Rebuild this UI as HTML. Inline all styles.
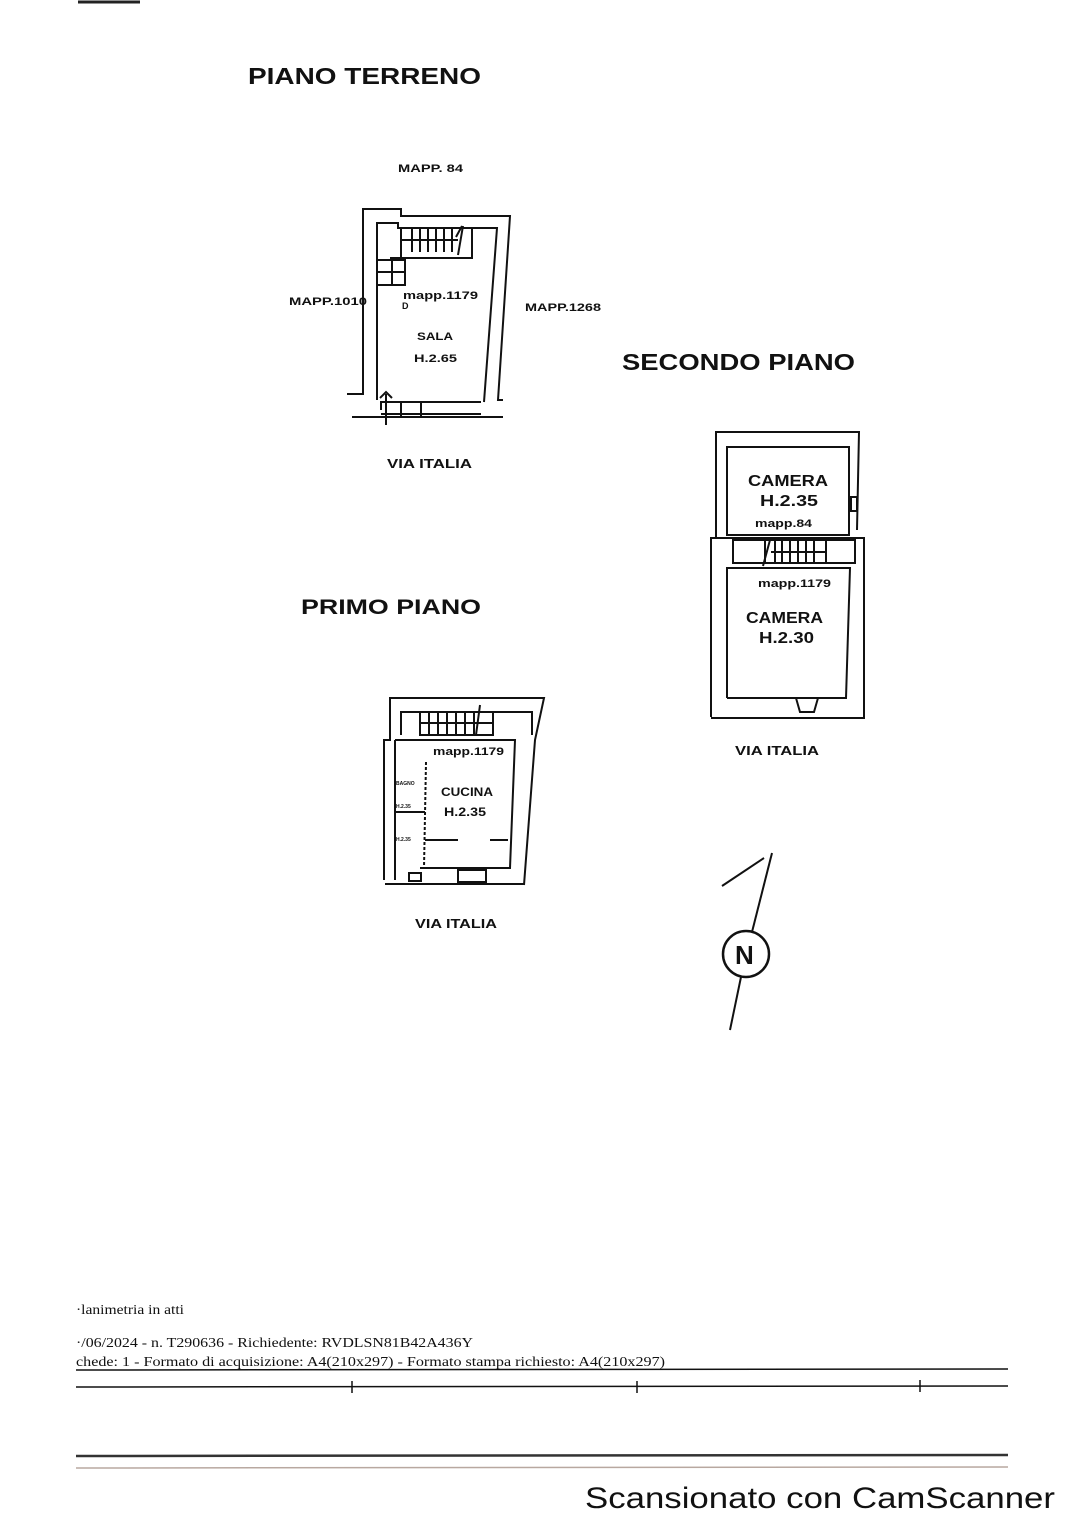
<!DOCTYPE html>
<html><head><meta charset="utf-8"><style>
html,body{margin:0;padding:0;background:#fff}
svg{display:block}
.b{font-family:"Liberation Sans",sans-serif;font-weight:bold;fill:#111}
.s{font-family:"Liberation Serif",serif;fill:#111}
</style></head><body>
<svg width="1085" height="1535" viewBox="0 0 1085 1535" xmlns="http://www.w3.org/2000/svg">
<rect width="1085" height="1535" fill="#fff"/>
<line x1="78" y1="2" x2="140" y2="2" stroke="#222" stroke-width="3"/>
<text class="b" x="248" y="84" font-size="23" textLength="233" lengthAdjust="spacingAndGlyphs">PIANO TERRENO</text>
<text class="b" x="398" y="172" font-size="11" textLength="65" lengthAdjust="spacingAndGlyphs">MAPP. 84</text>
<text class="b" x="289" y="305" font-size="11" textLength="78" lengthAdjust="spacingAndGlyphs">MAPP.1010</text>
<text class="b" x="525" y="311" font-size="11" textLength="76" lengthAdjust="spacingAndGlyphs">MAPP.1268</text>
<text class="b" x="403" y="299" font-size="11" textLength="75" lengthAdjust="spacingAndGlyphs">mapp.1179</text>
<text class="b" x="402" y="309" font-size="9">D</text>
<text class="b" x="417" y="340" font-size="11" textLength="36" lengthAdjust="spacingAndGlyphs">SALA</text>
<text class="b" x="414" y="362" font-size="11" textLength="43" lengthAdjust="spacingAndGlyphs">H.2.65</text>
<text class="b" x="387" y="468" font-size="13" textLength="85" lengthAdjust="spacingAndGlyphs">VIA ITALIA</text>
<g fill="none" stroke="#111" stroke-width="2">
<path d="M347,394 L363,394 L363,209 L401,209 L401,216 L510,216 L498,400 L503,400"/>
<path d="M377,400 L377,223 L398,223 L398,228 L497,228 L484,402"/>
<rect x="401" y="228" width="71" height="30"/>
<line x1="390" y1="258" x2="472" y2="258"/>
<path d="M378,260 L405,260 L405,285 L378,285 M378,272 L405,272 M392,260 L392,285"/>
<path d="M412,228 V252 M420,228 V252 M428,228 V252 M436,228 V252 M444,228 V252 M452,228 V252 M401,240 H458 M456,237 L462,226 M463,226 L458,255"/>
<line x1="352" y1="417" x2="503" y2="417"/>
<path d="M381,410 L381,402 L401,402 L401,416 M401,402 L481,402 M421,402 V416 M381,414 H481"/>
<path d="M386,425 V394 M380,398 L386,392 L392,398"/>
</g>
<text class="b" x="622" y="370" font-size="23" textLength="233" lengthAdjust="spacingAndGlyphs">SECONDO PIANO</text>
<g fill="none" stroke="#111" stroke-width="2">
<path d="M716,538 L716,432 L859,432 L857,530"/>
<rect x="727" y="447" width="122" height="88"/>
<path d="M711,717 L711,538 L864,538 L864,718"/>
<path d="M727,698 L727,568 L850,568 L846,698 L727,698"/>
<path d="M733,540 L855,540 L855,563 L733,563 Z M765,540 V563 M771,552 H826 M775,540 V563 M782,540 V563 M790,540 V563 M798,540 V563 M806,540 V563 M814,540 V563 M826,540 V563 M770,540 L763,566"/>
<line x1="711" y1="718" x2="865" y2="718"/>
<path d="M796,698 L800,712 L814,712 L818,698"/>
<rect x="851" y="497" width="6" height="14"/>
</g>
<text class="b" x="748" y="486" font-size="16" textLength="80" lengthAdjust="spacingAndGlyphs">CAMERA</text>
<text class="b" x="760" y="506" font-size="16" textLength="58" lengthAdjust="spacingAndGlyphs">H.2.35</text>
<text class="b" x="755" y="527" font-size="11" textLength="57" lengthAdjust="spacingAndGlyphs">mapp.84</text>
<text class="b" x="758" y="587" font-size="11" textLength="73" lengthAdjust="spacingAndGlyphs">mapp.1179</text>
<text class="b" x="746" y="623" font-size="16" textLength="77" lengthAdjust="spacingAndGlyphs">CAMERA</text>
<text class="b" x="759" y="643" font-size="16" textLength="55" lengthAdjust="spacingAndGlyphs">H.2.30</text>
<text class="b" x="735" y="755" font-size="13" textLength="84" lengthAdjust="spacingAndGlyphs">VIA ITALIA</text>
<text class="b" x="301" y="614" font-size="21" textLength="180" lengthAdjust="spacingAndGlyphs">PRIMO PIANO</text>
<g fill="none" stroke="#111" stroke-width="2">
<path d="M384,880 L384,740 L390,740 L390,698 L544,698 L535,740 L524,885"/>
<path d="M401,735 L401,712 L532,712 L532,735"/>
<path d="M395,740 L395,880 M395,740 L515,740 L510,868 L420,868"/>
<rect x="420" y="712" width="73" height="23"/>
<path d="M429,712 V735 M438,712 V735 M447,712 V735 M456,712 V735 M465,712 V735 M474,712 V735 M420,723 H493 M480,705 L476,735"/>
<path d="M426,762 L424,868" stroke-dasharray="3,2"/>
<path d="M395,812 H425 M425,840 H458 M490,840 H508"/>
<line x1="385" y1="884" x2="525" y2="884"/>
<rect x="409" y="873" width="12" height="8"/>
<rect x="458" y="870" width="28" height="12"/>
</g>
<text class="b" x="433" y="755" font-size="11" textLength="71" lengthAdjust="spacingAndGlyphs">mapp.1179</text>
<text class="b" x="441" y="796" font-size="12" textLength="52" lengthAdjust="spacingAndGlyphs">CUCINA</text>
<text class="b" x="444" y="816" font-size="12" textLength="42" lengthAdjust="spacingAndGlyphs">H.2.35</text>
<text class="b" x="396" y="785" font-size="5">BAGNO</text>
<text class="b" x="396" y="808" font-size="5">H.2.35</text>
<text class="b" x="396" y="841" font-size="5">H.2.35</text>
<text class="b" x="415" y="928" font-size="13" textLength="82" lengthAdjust="spacingAndGlyphs">VIA ITALIA</text>
<g fill="none" stroke="#111" stroke-width="2">
<line x1="772" y1="853" x2="752" y2="932"/>
<line x1="741" y1="977" x2="730" y2="1030"/>
<line x1="722" y1="886" x2="764" y2="858"/>
<circle cx="746" cy="954" r="23" stroke-width="2.5"/>
</g>
<text class="b" x="735" y="964" font-size="26">N</text>
<text class="s" x="76" y="1314" font-size="14" textLength="108" lengthAdjust="spacingAndGlyphs">·lanimetria in atti</text>
<text class="s" x="76" y="1347" font-size="14" textLength="397" lengthAdjust="spacingAndGlyphs">·/06/2024 - n. T290636 - Richiedente: RVDLSN81B42A436Y</text>
<text class="s" x="76" y="1366" font-size="14" textLength="589" lengthAdjust="spacingAndGlyphs">chede: 1 - Formato di acquisizione: A4(210x297)  - Formato stampa richiesto: A4(210x297)</text>
<g stroke="#111" stroke-width="1.5">
<line x1="76" y1="1370" x2="1008" y2="1369"/>
<line x1="76" y1="1387" x2="1008" y2="1386"/>
<line x1="352" y1="1381" x2="352" y2="1393"/>
<line x1="637" y1="1381" x2="637" y2="1393"/>
<line x1="920" y1="1380" x2="920" y2="1392"/>
<line x1="76" y1="1456" x2="1008" y2="1455" stroke-width="2.5" stroke="#333"/>
<line x1="76" y1="1468" x2="1008" y2="1467" stroke-width="1.5" stroke="#b8a8a0"/>
</g>
<text x="585" y="1508" font-family="Liberation Sans,sans-serif" font-size="30" fill="#111" textLength="470" lengthAdjust="spacingAndGlyphs">Scansionato con CamScanner</text>
</svg>
</body></html>
